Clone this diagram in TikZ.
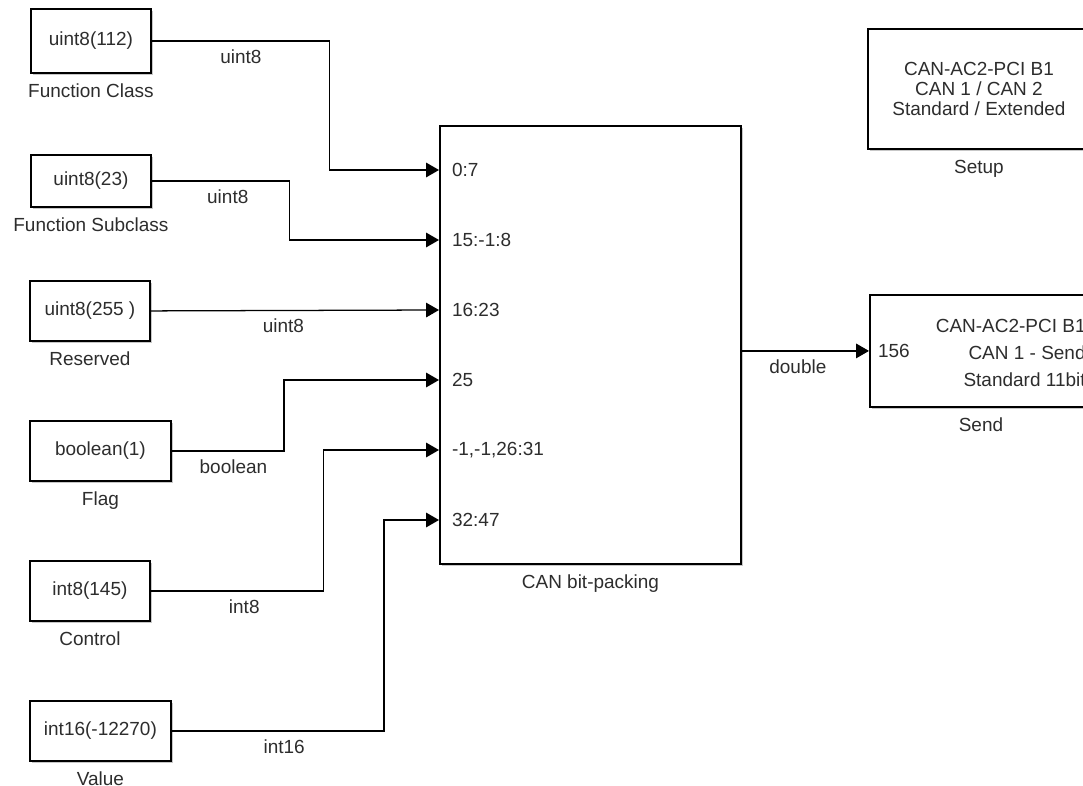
\documentclass[tikz,border=0pt]{standalone}
\usepackage{fontspec}
\setmainfont{Liberation Sans}
\usetikzlibrary{arrows.meta,positioning,shadows,calc}
\definecolor{simgray}{RGB}{45,45,45}

\begin{document}
\begin{tikzpicture}[x=0.025cm, y=-0.025cm,
  every node/.style={font=\fontsize{13.5}{15}\selectfont, text=simgray},
  blk/.style={draw=black, line width=1.3pt, fill=white, inner sep=0pt,
              anchor=north west, align=center,
              drop shadow={shadow xshift=1.6pt, shadow yshift=-1.6pt,
                           fill=black, opacity=0.22}},
  srcblk/.style={blk, minimum width=3cm, minimum height=1.5cm},
  widesrc/.style={srcblk, minimum width=3.525cm},
  blklbl/.style={inner sep=0pt, text height=9.5pt, text depth=2.5pt},
  portlbl/.style={anchor=west, inner sep=0pt},
  sig/.style={draw=black, line width=0.9pt,
              -{Triangle[length=0.32cm, width=0.36cm]}},
  siglbl/.style={below, inner sep=0pt, text height=9.5pt, text depth=2.5pt,
                 yshift=-0.21cm},
]
\useasboundingbox (0,0) rectangle (1083,786);
\fill[white] (0,0) rectangle (1083,786);
\clip (0,0) rectangle (1083,786);

%% Constant sources
\node[srcblk, minimum height=1.6cm] (fclass) at (30,8)   {uint8(112)};
\node[srcblk, minimum height=1.3cm] (fsub)   at (30,154) {uint8(23)};
\node[srcblk]  (resv)  at (29,280) {uint8(255 )};
\node[widesrc] (flag)  at (29,420) {boolean(1)};
\node[srcblk]  (ctrl)  at (29,560) {int8(145)};
\node[widesrc] (value) at (29,700) {int16(-12270)};

\node[blklbl, below=0.26cm of fclass] (fclasslbl) {Function Class};
\node[blklbl, below=0.26cm of fsub]   (fsublbl)   {Function Subclass};
\node[blklbl, below=0.26cm of resv]   (resvlbl)   {Reserved};
\node[blklbl, below=0.26cm of flag]   (flaglbl)   {Flag};
\node[blklbl, below=0.26cm of ctrl]   (ctrllbl)   {Control};
\node[blklbl, below=0.26cm of value]  (valuelbl)  {Value};

%% Bit-packing block
\node[blk, minimum width=7.525cm, minimum height=10.95cm] (pack) at (439,125) {};
\node[blklbl, below=0.26cm of pack] (packlbl) {CAN bit-packing};
\foreach \lbl [count=\i] in {0:7, 15:-1:8, 16:23, 25, {-1,-1,26:31}, 32:47} {
  \coordinate (in\i) at ($(pack.north west)+(0,{45+70*(\i-1)})$);
  \node[portlbl, xshift=0.32cm] (in\i lbl) at (in\i) {\lbl};
}

%% CAN board blocks
\node[blk, minimum width=5.55cm, minimum height=3cm,
      font=\fontsize{13.5}{14.5}\selectfont] (setup) at (867,28)
  {CAN-AC2-PCI B1\\CAN 1 / CAN 2\\Standard / Extended};
\node[blklbl, below=0.26cm of setup] (setuplbl) {Setup};

\node[blk, minimum width=5.55cm, minimum height=2.8cm] (send) at (869,294) {};
\node[anchor=east, align=right, inner sep=0pt,
      font=\fontsize{13.5}{19.2}\selectfont] (sendtxt)
  at ($(send.east)+(-7,2)$) {CAN-AC2-PCI B1\\CAN 1 - Send\\Standard 11bit};
\node[portlbl, xshift=0.22cm] (sendport) at (send.west) {156};
\node[blklbl, below=0.26cm of send] (sendlbl) {Send};

%% Signals
\draw[sig] (fclass.east) -- node[siglbl] (w1) {uint8} ++(178,0) |- (in1);
\draw[sig] (fsub.east) -- node[siglbl, pos=0.55] (w2) {uint8} ++(138,0) |- (in2);
\draw[sig] (resv.east) -- node[siglbl, pos=0.46] (w3) {uint8} (in3);
\draw[sig] (flag.east) -- node[siglbl, pos=0.55] (w4) {boolean} ++(112,0) |- (in4);
\draw[sig] (ctrl.east) -- node[siglbl, pos=0.54] (w5) {int8} ++(173,0) |- (in5);
\draw[sig] (value.east) -- node[siglbl, pos=0.53] (w6) {int16} ++(212,0) |- (in6);
\draw[sig] (pack.east |- send.west) -- node[siglbl, pos=0.44] (wout) {double} (send.west);

\end{tikzpicture}
\end{document}
